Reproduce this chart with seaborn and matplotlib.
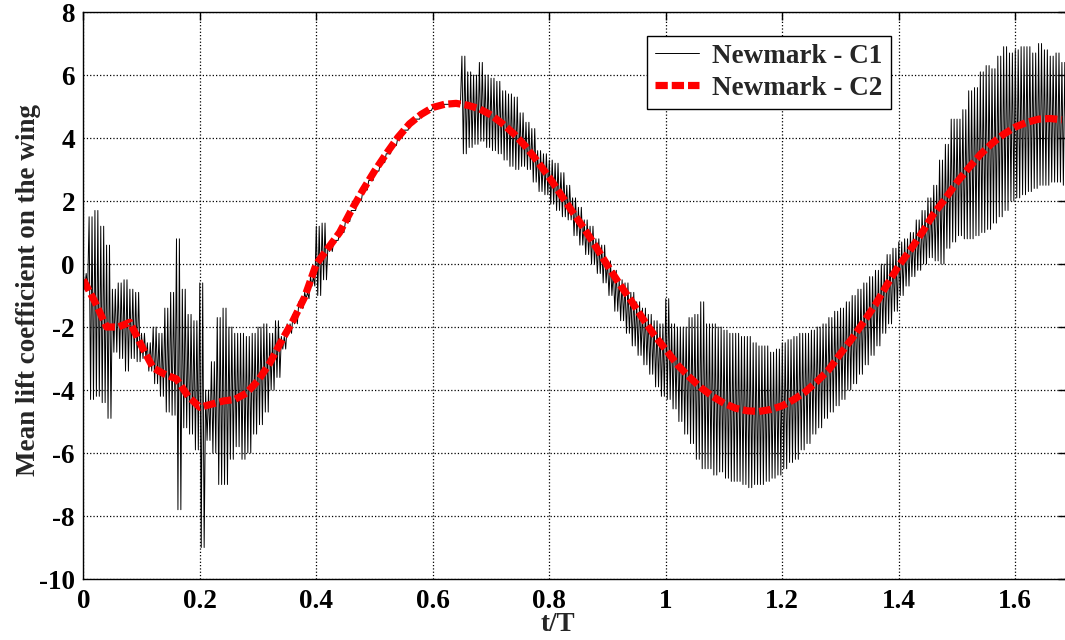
import numpy as np
import pandas as pd
import matplotlib
matplotlib.use('Agg')
import matplotlib.pyplot as plt
import seaborn as sns

# mean lift coefficient, Newmark - C2 (red dashed), sampled every 0.02 t/T
t_c2 = np.round(np.arange(0, 85) * 0.02, 2)
cl_c2 = [-0.5, -1.2, -2.0, -2.0, -1.85, -2.6, -3.3, -3.5, -3.65, -4.2,
         -4.55, -4.45, -4.35, -4.3, -4.1, -3.7, -3.15, -2.45, -1.8, -1.05,
         0.0, 0.5, 1.0, 1.7, 2.35, 2.95, 3.5, 4.02, 4.45, 4.75,
         4.97, 5.07, 5.1, 5.04, 4.93, 4.73, 4.45, 4.12, 3.72, 3.25,
         2.75, 2.2, 1.65, 1.12, 0.55, -0.05, -0.62, -1.15, -1.72, -2.25,
         -2.72, -3.2, -3.58, -3.92, -4.2, -4.42, -4.58, -4.66, -4.68, -4.62,
         -4.5, -4.3, -4.05, -3.72, -3.35, -2.84, -2.36, -1.83, -1.28, -0.65,
         -0.05, 0.45, 1.0, 1.6, 2.08, 2.6, 3.05, 3.48, 3.83, 4.12,
         4.35, 4.5, 4.6, 4.62, 4.58]

# Newmark - C1 (black, oscillating): upper / lower swing read every 0.01 t/T
t_c1 = np.round(np.arange(0, 169) * 0.01, 2)
c1_upper = [-0.3, 1.5, 1.7, 1.2, 0.6, -0.8, -0.6, -0.5, -0.8, -0.9,
            -2.2, -2.5, -2.0, -2.2, -1.4, -0.9, 0.8, -0.8, -1.6, -1.8,
            -0.6, -4.0, -3.1, -1.7, -1.4, -2.0, -2.2, -2.2, -2.3, -2.2,
            -2.0, -1.9, -2.2, -1.8, -2.3, -1.9, -1.6, -1.2, -0.9, -0.4,
            1.2, 1.3, 0.6, 0.75, 1.0, 1.35, 1.7, 2.02, 2.35, 2.65,
            2.95, 3.22, 3.5, 3.76, 4.02, 4.25, 4.45, 4.6, 4.75, 4.87,
            4.97, 5.03, 5.07, 5.09, 5.1, 6.6, 6.1, 6.0, 6.4, 6.0,
            5.9, 5.8, 5.5, 5.4, 5.3, 4.8, 4.5, 4.3, 3.6, 3.5,
            3.3, 3.2, 2.9, 2.5, 2.1, 1.8, 1.4, 1.2, 0.8, 0.6,
            0.1, -0.2, -0.5, -0.6, -0.9, -1.2, -1.4, -1.6, -1.8, -1.9,
            -1.1, -1.9, -2.0, -2.0, -1.7, -1.6, -1.2, -1.9, -1.9, -2.0,
            -2.1, -2.2, -2.2, -2.3, -2.3, -2.5, -2.6, -2.6, -2.8, -2.7,
            -2.5, -2.4, -2.3, -2.2, -2.2, -2.1, -2.0, -1.9, -1.7, -1.5,
            -1.4, -1.2, -1.0, -0.8, -0.6, -0.4, -0.2, 0.0, 0.3, 0.5,
            0.7, 0.8, 1.0, 1.4, 1.7, 2.1, 2.5, 3.3, 3.8, 4.6,
            4.6, 4.9, 5.5, 5.6, 6.1, 6.3, 6.2, 6.6, 6.9, 6.7,
            6.8, 6.9, 6.9, 6.7, 7.0, 6.8, 6.6, 6.7, 6.4]
c1_lower = [-0.8, -4.3, -4.2, -4.4, -4.9, -2.8, -3.0, -3.4, -3.0, -3.1,
            -3.0, -3.4, -3.8, -4.2, -4.7, -4.8, -7.8, -5.2, -5.4, -5.9,
            -9.0, -5.6, -6.0, -7.0, -7.0, -6.2, -5.8, -6.2, -6.0, -5.4,
            -5.1, -4.7, -4.0, -3.6, -2.7, -2.2, -1.9, -1.4, -1.1, -0.7,
            -1.0, -0.5, 0.4, 0.75, 1.0, 1.35, 1.7, 2.02, 2.35, 2.65,
            2.95, 3.22, 3.5, 3.76, 4.02, 4.25, 4.45, 4.6, 4.75, 4.87,
            4.97, 5.03, 5.07, 5.09, 5.1, 3.5, 3.7, 3.8, 3.9, 3.7,
            3.6, 3.5, 3.3, 3.1, 3.0, 3.1, 3.0, 2.6, 2.3, 2.2,
            1.9, 1.7, 1.5, 1.4, 0.9, 0.6, 0.3, 0.0, -0.3, -0.6,
            -1.0, -1.5, -1.8, -2.2, -2.6, -2.9, -3.2, -3.5, -3.9, -4.2,
            -4.3, -4.6, -5.0, -5.4, -5.7, -6.2, -6.5, -6.5, -6.7, -6.6,
            -6.8, -6.9, -6.9, -7.0, -7.1, -7.0, -7.0, -6.9, -6.8, -6.7,
            -6.5, -6.3, -6.2, -5.9, -5.7, -5.4, -5.2, -4.9, -4.7, -4.5,
            -4.3, -4.0, -3.8, -3.5, -3.2, -2.9, -2.6, -2.2, -1.9, -1.5,
            -1.0, -0.7, -0.4, -0.2, 0.0, 0.2, 0.1, 0.0, 0.5, 0.7,
            0.9, 0.8, 0.8, 0.9, 1.0, 1.1, 1.3, 1.5, 1.7, 2.0,
            2.1, 2.2, 2.3, 2.4, 2.5, 2.5, 2.6, 2.6, 2.5]

# each 0.01 step holds two full swings (up, down, up, down)
sub = np.arange(4) * 0.0025
t_zig = (t_c1[:, None] + sub[None, :]).ravel()
v_zig = np.column_stack([c1_upper, c1_lower, c1_upper, c1_lower]).ravel()

df_c1 = pd.DataFrame({'t/T': t_zig, 'cl': v_zig})
df_c2 = pd.DataFrame({'t/T': t_c2, 'cl': cl_c2})

sns.set_style('white')
plt.rcParams['font.family'] = ['Liberation Serif', 'DejaVu Serif']
plt.rcParams['font.weight'] = 'bold'
plt.rcParams['font.size'] = 19.5
plt.rcParams['axes.unicode_minus'] = False

fig = plt.figure(figsize=(10.65, 6.4), dpi=100)
ax = fig.add_axes([0.0782, 0.0953, 0.9225, 0.8859])

sns.lineplot(data=df_c1, x='t/T', y='cl', ax=ax, color='black', lw=0.7,
             sort=False, estimator=None, label='Newmark - C1')
sns.lineplot(data=df_c2, x='t/T', y='cl', ax=ax, color='red', lw=5.2,
             sort=False, estimator=None, label='Newmark - C2',
             dashes=False)
ax.lines[-1].set_dashes((1.7, 0.55))
ax.lines[-1].set_dash_capstyle('butt')

ax.set_xlim(0, 1.6866)
ax.set_ylim(-10, 8)
ax.set_xticks(np.arange(0, 1.61, 0.2))
ax.set_xticklabels(['0', '0.2', '0.4', '0.6', '0.8', '1', '1.2', '1.4', '1.6'])
ax.set_yticks(np.arange(-10, 9, 2))
ax.grid(True, linestyle=':', color='black', lw=0.9)
ax.tick_params(direction='in', length=6, width=1, top=True, right=True,
               labelsize=19.5, colors='black')
ax.tick_params(axis='x', pad=7)
ax.tick_params(axis='y', pad=6)
for s in ax.spines.values():
    s.set_color('black')
    s.set_linewidth(1.0)

ax.set_xlabel('t/T', fontsize=19.5, fontweight='bold')
ax.set_ylabel('Mean lift coefficient on the wing', fontsize=19.5, fontweight='bold')
ax.xaxis.set_label_coords(0.483, -0.059)
ax.yaxis.set_label_coords(-0.043, 0.51)

leg = ax.legend(loc='upper left', bbox_to_anchor=(0.574, 0.958), frameon=True,
                fancybox=False, edgecolor='black', framealpha=1,
                handlelength=1.6, handletextpad=0.5, borderpad=0.3,
                borderaxespad=0, labelspacing=0.25,
                prop={'weight': 'bold', 'size': 19.5})
leg.get_frame().set_linewidth(1.0)

fig.savefig('out.png', dpi=100)
